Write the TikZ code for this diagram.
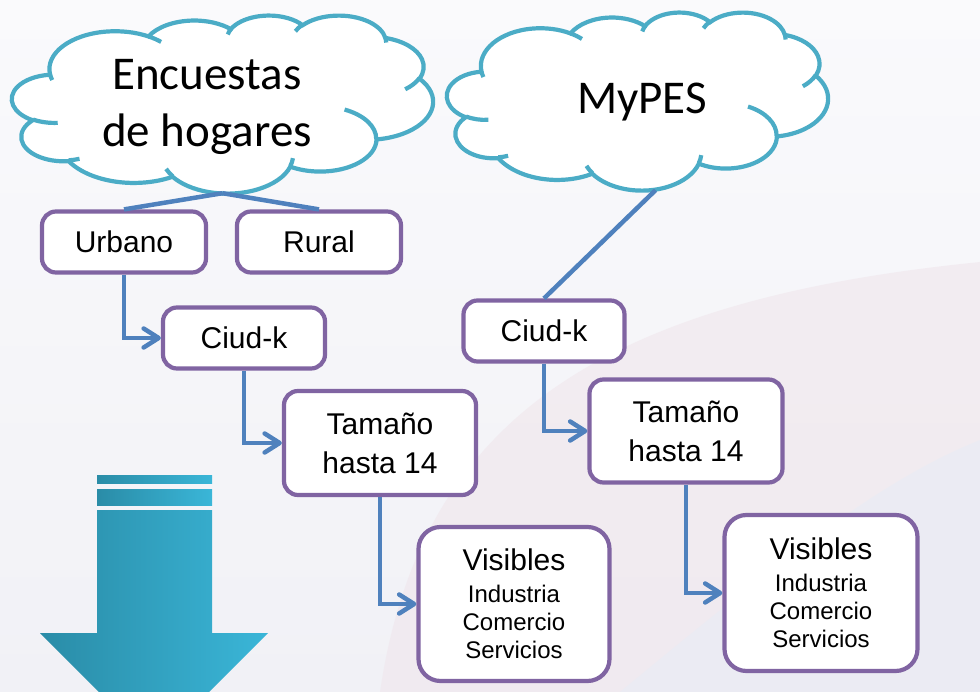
\documentclass[tikz,border=0pt]{standalone}
\usepackage{fontspec}
\setmainfont{Liberation Sans}
\newfontfamily\calibri{Carlito}
\usetikzlibrary{positioning}
\usetikzlibrary{arrows.meta}

\definecolor{nubeazul}{HTML}{4BACC6}
\definecolor{morado}{HTML}{8064A2}
\definecolor{lineaazul}{HTML}{4F81BD}
\definecolor{flechaizq}{HTML}{2A8CA7}
\definecolor{flechader}{HTML}{3AB6D8}
\definecolor{fondoarriba}{HTML}{FAFAFC}
\definecolor{fondoabajo}{HTML}{F1F1F6}
\definecolor{fondorosa}{HTML}{F0E6EC}
\definecolor{fondoazul}{HTML}{E8ECF5}

% nube en un cuadro de 432 x 432
\tikzset{
    pics/nube/.style={code={
        \draw[line width=4.2pt,draw=nubeazul,fill=white]
            (39.00,143.70)
            arc[x radius=67.53,y radius=91.90,start angle=-187.75,end angle=-59.64]
            arc[x radius=53.33,y radius=72.67,start angle=-152.03,end angle=-45.46]
            arc[x radius=43.65,y radius=59.45,start angle=-153.49,end angle=-37.33]
            arc[x radius=48.57,y radius=65.95,start angle=-139.72,end angle=-10.22]
            arc[x radius=53.33,y radius=72.73,start angle=-74.76,end angle=23.21]
            arc[x radius=67.75,y radius=92.20,start angle=-37.55,end angle=81.86]
            arc[x radius=57.85,y radius=78.67,start angle=0.46,end angle=121.96]
            arc[x radius=67.52,y radius=92.15,start angle=16.84,end angle=146.25]
            arc[x radius=77.20,y radius=105.43,start angle=59.03,end angle=150.16]
            arc[x radius=43.60,y radius=59.18,start angle=-276.69,end angle=-136.89]
            arc[x radius=43.45,y radius=59.45,start angle=-239.64,end angle=-95.89]
            -- cycle;
        \draw[line width=4.2pt,draw=nubeazul]
            (46.93,261.77) arc[x radius=43.45,y radius=59.45,start angle=85.54,end angle=120.36]
            (69.28,348.99) arc[x radius=43.60,y radius=59.18,start angle=68.24,end angle=83.31]
            (164.78,390.90) arc[x radius=67.52,y radius=92.15,start angle=146.25,end angle=158.47]
            (288.27,347.51) arc[x radius=67.52,y radius=92.15,start angle=4.74,end angle=16.84]
            (341.29,229.54) arc[x radius=57.85,y radius=78.67,start angle=-63.99,end angle=0.46]
            (417.98,153.54) arc[x radius=53.33,y radius=72.73,start angle=23.21,end angle=49.66]
            (383.24,54.26) arc[x radius=48.57,y radius=65.95,start angle=-10.21,end angle=0.82]
            (290.78,39.52) arc[x radius=48.57,y radius=65.95,start angle=-156.28,end angle=-139.72]
            (221.41,47.20) arc[x radius=43.65,y radius=59.45,start angle=-167.72,end angle=-153.49]
            (140.00,51.92) arc[x radius=67.53,y radius=91.90,start angle=-59.64,end angle=-45.73]
            (41.27,157.89) arc[x radius=67.53,y radius=91.90,start angle=163.19,end angle=172.25];
    }}
}

\begin{document}
\begin{tikzpicture}[x=1pt,y=-1pt,
        nubetexto/.style={align=center,inner sep=0pt,font=\calibri\fontsize{47}{57}\selectfont},
        caja/.style={rectangle,rounded corners=14pt,draw=morado,fill=white,line width=4.2pt,
            align=center,inner sep=0pt,font=\fontsize{30}{39}\selectfont},
        paso/.style={draw=lineaazul,line width=4.5pt,arrows = -{Straight Barb[length=15pt,width=19pt,round]}},
        rama/.style={draw=lineaazul,line width=4.5pt}]

            % \draw [help lines] (0,0) grid[step=50] (980,692);

            \clip (0,0) rectangle (980,692);
            \useasboundingbox (0,0) rectangle (980,692);
            \shade[top color=fondoarriba,bottom color=fondoabajo] (0,0) rectangle (980,692);
            \fill[fondorosa,opacity=.6] (380,692) .. controls (420,420) and (600,300) .. (980,262) -- (980,692) -- cycle;
            \fill[fondoazul,opacity=.6] (620,692) .. controls (780,560) and (880,480) .. (980,440) -- (980,692) -- cycle;

            % flecha grande
            \shade[left color=flechaizq,right color=flechader]
                (97,510) -- (212,510) -- (212,633) -- (268,633) -- (154,747) -- (40,633) -- (97,633) -- cycle;
            \shade[left color=flechaizq,right color=flechader] (97,475) rectangle (212,483);
            \shade[left color=flechaizq,right color=flechader] (97,489) rectangle (212,505);

            % nubes
            \path (12,15) pic[x=0.9745pt,y=-0.4120pt] {nube};
            \path (447,12) pic[x=0.8819pt,y=-0.4120pt] {nube};

            \path   (222.5,104) node (hog) [minimum width=421,minimum height=178] {}
                    (637.5,101) node (mype) [minimum width=381,minimum height=178] {}
                    (207,107) node (hogtxt) [nubetexto] {Encuestas\\de hogares}
                    (642,102) node (mypetxt) [nubetexto] {MyPES}

                    (124,242) node (urb) [caja,minimum width=164,minimum height=61] {Urbano}
                    (319,242) node (rur) [caja,minimum width=164,minimum height=61] {Rural}
                    (244,338) node (ciu1) [caja,minimum width=162,minimum height=61] {Ciud-k}
                    (380,443) node (tam1) [caja,minimum width=192,minimum height=104] {Tamaño\\hasta 14}
                    (514,604) node (vis1) [caja,rounded corners=22pt,minimum width=191,minimum height=154,
                        font=\fontsize{24}{28}\selectfont] {{\fontsize{30}{32}\selectfont Visibles}\\[4pt]Industria\\Comercio\\Servicios}

                    (544,331) node (ciu2) [caja,minimum width=161,minimum height=61] {Ciud-k}
                    (686,431) node (tam2) [caja,minimum width=193,minimum height=103] {Tamaño\\hasta 14}
                    (821,593) node (vis2) [caja,rounded corners=22pt,minimum width=193,minimum height=156,
                        font=\fontsize{24}{28}\selectfont] {{\fontsize{30}{32}\selectfont Visibles}\\[4pt]Industria\\Comercio\\Servicios};

            \draw[rama] (hog.south) -- (urb.north);
            \draw[rama] (hog.south) -- (rur.north);
            \draw[rama] ([xshift=18pt]mype.south) -- (ciu2.north);

            \draw[paso] (urb.south) |- (ciu1.west);
            \draw[paso] (ciu1.south) |- (tam1.west);
            \draw[paso] (tam1.south) |- (vis1.west);

            \draw[paso] (ciu2.south) |- (tam2.west);
            \draw[paso] (tam2.south) |- (vis2.west);
        \end{tikzpicture}
\end{document}
